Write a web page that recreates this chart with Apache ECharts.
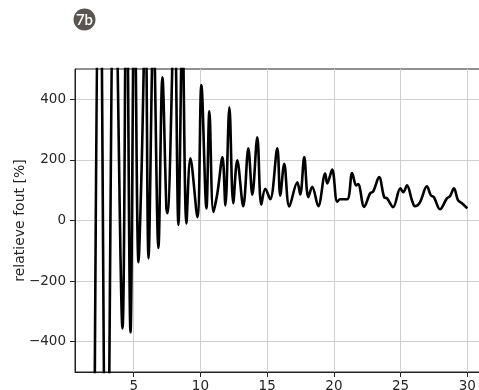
<!DOCTYPE html>
<html>
<head>
<meta charset="utf-8">
<script src="https://cdn.jsdelivr.net/npm/echarts@6/dist/echarts.min.js"></script>
<style>
  html, body { margin: 0; padding: 0; background: #fff; }
  #chart { width: 479px; height: 390px; }
</style>
</head>
<body>
<div id="chart"></div>
<script>
// Relative error curve: sample positions and error values in percent
const xValues = [
  2.0, 2.44, 2.97, 3.56, 4.16, 4.46, 4.76, 5.06, 5.36, 5.58, 5.88, 6.11, 6.48, 6.85,
  7.15, 7.45, 7.53, 8.05, 8.35, 8.65, 8.95, 9.25, 9.77, 10.07, 10.45, 10.67, 10.97,
  11.27, 11.65, 11.87, 12.17, 12.46, 12.76, 13.21, 13.59, 13.89, 14.26, 14.56, 14.86,
  15.23, 15.76, 15.98, 16.28, 16.66, 17.26, 17.48, 17.78, 18.08, 18.38, 18.83, 19.35,
  19.5, 19.87, 20.25, 20.47, 21.0, 21.37, 21.67, 21.82, 22.27, 22.72, 22.94, 23.39,
  23.77, 23.99, 24.44, 24.98, 25.2, 25.48, 25.85, 26.08, 26.45, 26.97, 27.27, 27.5,
  27.95, 28.47, 28.7, 29.0, 29.3, 29.6, 30.0
];
const errorValues = [
  -1200, 1200, -1200, 1000, -356, 900, -369, 800, -138, 150, 700, -125, 650, -91,
  473, 40, 24, 700, -15, 650, -10, 205, 11, 447, 40, 360, 28,
  90, 209, 50, 374, 57, 199, 47, 238, 85, 275, 52, 105,
  70, 238, 82, 187, 46, 126, 86, 209, 77, 111, 47, 155,
  122, 168, 62, 70, 70, 157, 116, 120, 45, 90, 95, 143,
  77, 73, 44, 106, 93, 116, 67, 47, 60, 113, 83, 77,
  37, 73, 80, 106, 67, 57, 40
];
const xTicks = [5, 10, 15, 20, 25, 30];
const yTicks = [-400, -200, 0, 200, 400];
const yAxisTitle = 'relatieve fout [%]';
const badgeText = '7b';

const FONT = 'DejaVu Sans';
const minus = v => String(v).replace('-', '\u2212');

const chart = echarts.init(document.getElementById('chart'), null, { renderer: 'canvas' });
chart.setOption({
  animation: false,
  backgroundColor: '#ffffff',
  grid: {
    left: 75, top: 69, bottom: 18, right: -7,
    show: true, borderColor: '#222', borderWidth: 1,
    containLabel: false, outerBoundsMode: 'none'
  },
  xAxis: {
    type: 'value', min: 0.6, max: 31.4,
    axisLine: { show: true, onZero: false, lineStyle: { color: '#222', width: 1 } },
    axisTick: { show: true, customValues: xTicks, length: 5, inside: false, lineStyle: { color: '#222' } },
    axisLabel: { customValues: xTicks, margin: 7, color: '#262626', fontFamily: FONT, fontSize: 13.5 },
    splitLine: { show: true, lineStyle: { color: '#cfcfcf', width: 1 } }
  },
  yAxis: {
    type: 'value', min: -500, max: 500,
    name: yAxisTitle, nameLocation: 'middle', nameGap: 48, nameRotate: 90,
    nameMoveOverlap: false,
    nameTextStyle: { color: '#262626', fontFamily: FONT, fontSize: 14 },
    axisLine: { show: true, onZero: false, lineStyle: { color: '#222', width: 1 } },
    axisTick: { show: true, customValues: yTicks, length: 5, inside: false, lineStyle: { color: '#222' } },
    axisLabel: { customValues: yTicks, margin: 9, color: '#262626', fontFamily: FONT, fontSize: 13.5, formatter: minus },
    splitLine: { show: true, lineStyle: { color: '#cfcfcf', width: 1 } }
  },
  series: [{
    type: 'line',
    data: xValues.map((x, i) => [x, errorValues[i]]),
    showSymbol: false,
    smooth: 0.35,
    clip: true,
    lineStyle: { color: '#000', width: 2.6 }
  }],
  graphic: [
    { type: 'circle', shape: { cx: 84.5, cy: 19.5, r: 11 }, style: { fill: '#5a5553' } },
    { type: 'text', x: 84.5, y: 20, style: { text: badgeText, fill: '#fff', font: '600 15px Lato', align: 'center', verticalAlign: 'middle' } }
  ]
});
</script>
</body>
</html>
